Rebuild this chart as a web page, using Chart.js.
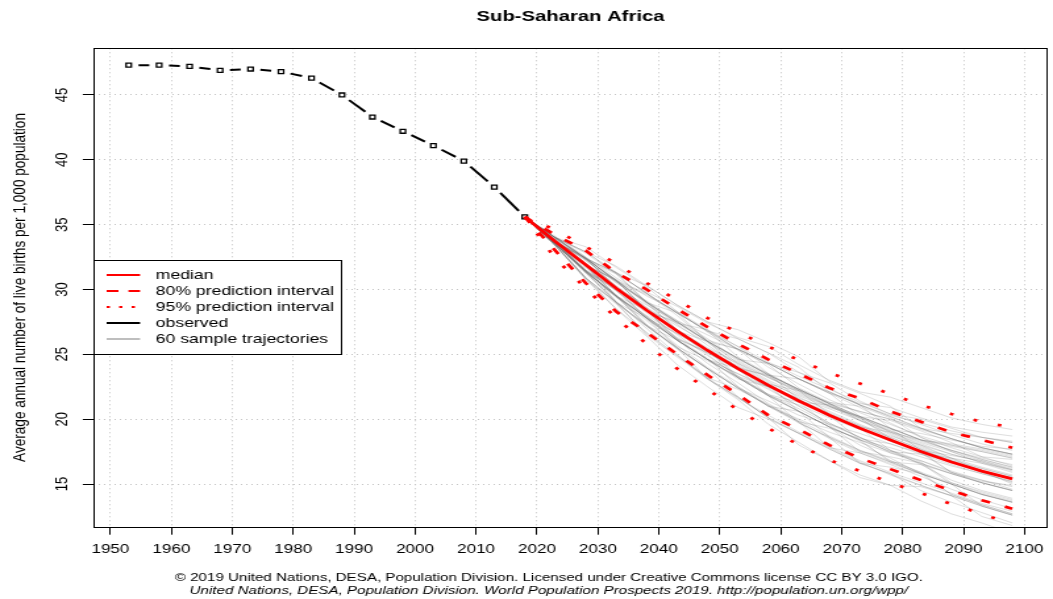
<!DOCTYPE html>
<html>
<head>
<meta charset="utf-8">
<title>Sub-Saharan Africa – crude birth rate</title>
<script src="https://cdn.jsdelivr.net/npm/chart.js@4"></script>
<style>
  html, body { margin: 0; padding: 0; background: #fff; width: 1053px; height: 599px; overflow: hidden; }
  /* the figure is laid out on an 800px-wide canvas and widened to the page */
  #wrap { width: 800px; height: 599px; transform: scaleX(1.31625); transform-origin: 0 0; }
  canvas { display: block; }
</style>
</head>
<body>
<div id="wrap"><canvas id="cbr" width="800" height="599"></canvas></div>
<script>
const FONT = "'Liberation Sans', Arial, Helvetica, sans-serif";

const chartTitle = 'Sub-Saharan Africa';
const yAxisTitle = 'Average annual number of live births per 1,000 population';
const footerLines = [
  '\u00A9 2019 United Nations, DESA, Population Division. Licensed under Creative Commons license CC BY 3.0 IGO.',
  'United Nations, DESA, Population Division. World Population Prospects 2019. http://population.un.org/wpp/'
];

const xTicks = [1950, 1960, 1970, 1980, 1990, 2000, 2010, 2020, 2030, 2040, 2050, 2060, 2070, 2080, 2090, 2100];
const yTicks = [15, 20, 25, 30, 35, 40, 45];

// observed crude birth rate, plotted at the middle of each five-year period
const observedYears = [1953, 1958, 1963, 1968, 1973, 1978, 1983, 1988, 1993, 1998, 2003, 2008, 2013, 2018];
const observedCBR   = [47.3, 47.3, 47.2, 46.9, 47.0, 46.8, 46.3, 45.0, 43.3, 42.2, 41.1, 39.9, 37.9, 35.6];

// projection: median and prediction intervals
const projectionYears = [2018, 2023, 2028, 2033, 2038, 2043, 2048, 2053, 2058, 2063, 2068, 2073, 2078, 2083, 2088, 2093, 2098];
const medianCBR  = [35.6, 33.7, 31.9, 30.1, 28.4, 26.8, 25.3, 23.9, 22.6, 21.4, 20.3, 19.3, 18.4, 17.5, 16.7, 16.0, 15.4];
const upper80CBR = [35.6, 34.2, 33.0, 31.3, 30.0, 28.5, 27.1, 25.8, 24.6, 23.5, 22.4, 21.6, 20.6, 19.8, 19.0, 18.4, 17.8];
const lower80CBR = [35.6, 33.0, 30.5, 28.3, 26.7, 25.0, 23.4, 21.9, 20.3, 19.2, 18.0, 17.0, 16.15, 15.3, 14.5, 13.75, 13.1];
const upper95CBR = [35.6, 34.6, 33.3, 32.0, 30.5, 29.2, 27.8, 26.7, 25.6, 24.55, 23.57, 22.75, 21.95, 21.1, 20.4, 19.8, 19.35];
const lower95CBR = [35.6, 32.4, 30.1, 27.8, 25.8, 23.9, 22.3, 20.7, 19.3, 18.0, 16.85, 16.0, 15.1, 14.3, 13.45, 12.7, 11.9];

// 60 sample trajectories, 2023..2098 (each continues from the 2018 observed value)
const sampleTrajectories = [
  [33.7, 32.3, 31.2, 29.8, 28.7, 27.4, 26.3, 25.6, 24.2, 23.0, 22.1, 21.7, 20.9, 20.1, 19.6, 19.2],
  [33.6, 31.3, 29.1, 27.0, 25.0, 23.1, 21.5, 19.6, 18.2, 16.8, 15.5, 14.9, 13.7, 12.7, 12.0, 11.2],
  [33.8, 31.8, 30.8, 29.1, 27.4, 26.9, 25.3, 24.2, 22.4, 21.3, 21.0, 20.1, 18.6, 17.8, 17.1, 16.9],
  [33.6, 31.5, 29.6, 27.3, 25.6, 24.5, 23.3, 22.5, 21.3, 19.5, 18.3, 16.8, 15.9, 14.2, 13.4, 12.7],
  [34.0, 32.8, 31.2, 29.0, 26.9, 25.4, 23.3, 21.9, 21.3, 21.1, 20.1, 18.5, 17.4, 15.9, 15.2, 14.9],
  [33.4, 30.8, 28.9, 26.6, 24.9, 23.2, 22.3, 21.1, 19.8, 19.3, 18.5, 18.1, 17.4, 17.0, 16.6, 16.1],
  [33.7, 32.0, 30.2, 28.3, 27.5, 26.1, 25.4, 24.3, 23.6, 22.8, 21.4, 20.4, 20.0, 19.3, 18.6, 18.2],
  [33.7, 31.8, 29.5, 27.9, 26.2, 25.2, 24.0, 23.3, 22.2, 20.4, 19.3, 17.6, 16.7, 15.1, 14.3, 13.7],
  [34.0, 32.5, 30.6, 29.6, 28.2, 26.8, 24.8, 23.5, 21.5, 20.3, 19.4, 19.0, 18.4, 18.0, 17.6, 17.1],
  [33.5, 31.4, 30.0, 28.4, 26.2, 24.7, 22.5, 21.0, 19.8, 17.8, 16.7, 15.7, 14.9, 14.1, 12.5, 11.8],
  [33.7, 32.3, 30.6, 28.9, 26.9, 25.3, 23.9, 22.7, 22.2, 21.1, 20.1, 19.2, 18.9, 18.4, 17.9, 17.7],
  [33.4, 30.9, 28.5, 26.4, 24.2, 22.5, 20.9, 20.0, 18.9, 17.8, 17.4, 16.6, 15.8, 14.2, 13.4, 12.7],
  [34.0, 33.3, 31.7, 30.2, 28.3, 26.7, 25.4, 23.5, 22.3, 21.2, 20.2, 19.3, 17.6, 16.8, 16.0, 15.5],
  [33.7, 31.9, 30.0, 27.7, 26.1, 24.6, 23.1, 22.5, 21.4, 20.2, 19.3, 18.3, 17.5, 15.9, 15.1, 14.5],
  [33.7, 31.5, 30.1, 28.4, 27.4, 26.0, 24.6, 24.3, 23.1, 22.0, 21.2, 20.9, 20.1, 19.4, 19.0, 18.7],
  [33.5, 31.3, 29.0, 27.2, 25.4, 23.9, 21.7, 20.1, 18.0, 16.8, 15.7, 14.9, 14.8, 14.1, 13.3, 12.6],
  [33.9, 32.4, 30.2, 28.4, 26.8, 25.3, 23.2, 21.9, 20.6, 18.6, 17.6, 16.7, 16.5, 15.8, 15.1, 14.5],
  [33.7, 32.4, 30.7, 29.7, 28.2, 26.0, 24.7, 23.4, 23.1, 22.0, 20.2, 19.3, 18.4, 18.1, 17.7, 17.2],
  [33.5, 31.4, 29.5, 28.4, 26.8, 25.3, 23.9, 21.8, 20.6, 19.4, 18.4, 16.7, 15.8, 15.0, 14.2, 13.6],
  [34.0, 32.9, 31.3, 30.3, 28.8, 27.5, 26.9, 25.9, 24.8, 22.9, 22.0, 21.0, 19.3, 18.5, 17.8, 17.3],
  [33.7, 31.9, 29.5, 27.8, 25.5, 23.9, 22.4, 21.0, 20.6, 19.4, 18.4, 17.5, 17.3, 16.7, 16.0, 15.4],
  [34.0, 32.4, 30.7, 28.4, 26.8, 25.3, 23.9, 23.4, 22.3, 21.2, 20.2, 19.9, 19.1, 18.2, 17.1, 16.4],
  [33.4, 30.9, 29.0, 27.2, 26.1, 24.6, 23.9, 22.6, 21.4, 20.3, 18.4, 17.5, 16.6, 15.0, 14.2, 13.6],
  [33.7, 31.9, 30.7, 29.0, 27.5, 26.0, 23.9, 22.6, 20.6, 19.4, 17.5, 16.7, 15.8, 15.0, 13.3, 12.6],
  [34.0, 32.4, 31.3, 29.7, 28.2, 26.8, 25.4, 24.3, 23.1, 22.1, 21.1, 19.3, 18.4, 17.6, 16.9, 16.3],
  [33.5, 31.5, 29.4, 27.9, 26.2, 25.1, 24.0, 22.5, 21.5, 20.2, 19.4, 18.3, 17.6, 17.2, 16.8, 16.2],
  [33.7, 31.4, 29.5, 27.2, 25.5, 23.1, 21.7, 20.1, 18.9, 17.7, 16.6, 16.3, 15.8, 15.0, 14.2, 13.6],
  [34.0, 32.4, 30.1, 28.4, 26.1, 24.6, 23.2, 21.8, 21.1, 20.1, 19.2, 18.5, 17.4, 16.8, 15.9, 15.5],
  [33.7, 32.4, 30.7, 29.0, 27.5, 26.0, 24.7, 23.4, 22.3, 21.2, 20.6, 20.0, 19.3, 18.5, 17.8, 17.3],
  [33.5, 31.4, 30.1, 28.4, 26.8, 26.0, 24.7, 23.4, 22.3, 21.2, 20.2, 19.0, 18.0, 17.0, 16.0, 15.0],
  [33.7, 31.9, 29.0, 27.2, 25.5, 23.9, 22.4, 21.0, 19.7, 18.6, 17.5, 17.1, 16.6, 15.8, 15.1, 14.5],
  [34.0, 32.4, 30.7, 29.0, 28.2, 26.8, 26.2, 25.1, 24.0, 22.1, 21.1, 20.2, 19.3, 18.9, 18.6, 18.2],
  [33.4, 30.9, 29.0, 27.8, 26.1, 24.6, 23.2, 21.8, 19.7, 18.6, 16.6, 15.8, 14.9, 14.1, 13.3, 12.6],
  [33.7, 31.9, 30.7, 28.4, 26.8, 25.3, 24.1, 22.8, 21.8, 20.9, 20.2, 19.3, 18.4, 17.6, 16.9, 16.3],
  [33.7, 31.4, 29.5, 27.8, 26.1, 24.6, 23.5, 22.3, 21.0, 19.7, 18.6, 17.4, 16.8, 15.9, 15.3, 14.6],
  [34.0, 32.9, 31.3, 29.7, 28.0, 26.0, 24.7, 23.4, 22.3, 21.2, 19.9, 18.8, 17.8, 16.9, 16.2, 15.6],
  [33.5, 31.4, 29.0, 27.2, 25.5, 23.9, 22.4, 21.4, 20.3, 19.6, 18.9, 18.1, 17.3, 16.5, 15.8, 15.2],
  [33.7, 32.4, 30.7, 28.4, 26.8, 25.0, 23.2, 21.8, 20.6, 19.4, 18.0, 17.0, 15.8, 15.0, 14.2, 13.6],
  [34.0, 32.9, 31.8, 30.3, 28.8, 27.5, 26.2, 25.1, 23.6, 22.4, 21.1, 20.2, 19.3, 18.5, 17.8, 17.3],
  [33.5, 30.9, 29.0, 26.5, 24.8, 23.1, 21.7, 20.1, 18.9, 17.7, 16.6, 15.8, 14.5, 13.6, 12.8, 12.0],
  [33.8, 32.0, 30.3, 28.6, 26.9, 25.5, 24.4, 23.2, 22.1, 21.0, 20.1, 19.1, 18.2, 17.5, 16.8, 16.1],
  [33.6, 31.7, 29.9, 27.9, 26.3, 25.1, 23.8, 22.5, 21.5, 20.4, 19.5, 18.6, 17.7, 16.8, 16.2, 15.6],
  [34.0, 32.4, 31.3, 29.0, 27.5, 26.0, 24.3, 23.0, 21.9, 21.0, 20.2, 19.3, 18.4, 17.9, 17.5, 17.0],
  [33.5, 31.4, 29.5, 27.2, 25.5, 23.9, 22.4, 21.0, 20.0, 19.0, 18.2, 17.4, 16.6, 15.8, 15.1, 14.5],
  [33.7, 31.9, 30.1, 28.8, 27.5, 26.0, 25.4, 24.3, 23.1, 22.0, 20.9, 19.7, 18.6, 17.5, 16.6, 15.9],
  [33.5, 31.4, 29.5, 27.8, 26.1, 24.3, 22.8, 21.2, 19.9, 18.7, 17.6, 16.8, 15.9, 15.1, 14.4, 13.8],
  [33.9, 32.3, 30.5, 29.1, 27.6, 26.2, 24.6, 23.5, 22.2, 21.0, 19.9, 18.9, 17.9, 17.0, 16.3, 15.7],
  [33.7, 31.4, 29.5, 28.0, 26.6, 25.4, 24.3, 23.2, 22.2, 21.3, 20.6, 20.0, 19.2, 18.5, 17.8, 17.3],
  [33.4, 30.8, 28.5, 26.7, 24.9, 23.2, 21.6, 20.3, 19.0, 17.9, 16.8, 15.9, 15.1, 14.3, 13.5, 12.9],
  [33.7, 32.4, 31.3, 29.7, 28.2, 26.8, 25.6, 24.0, 22.7, 21.5, 20.5, 19.6, 18.7, 18.0, 17.5, 17.0],
  [33.7, 31.9, 30.1, 27.8, 26.1, 24.6, 23.2, 21.8, 20.6, 19.4, 18.4, 17.8, 17.1, 16.4, 15.8, 15.2],
  [34.1, 32.5, 30.9, 29.5, 28.3, 26.9, 25.6, 24.4, 23.3, 22.3, 21.3, 20.4, 19.6, 18.8, 18.1, 17.6],
  [33.5, 31.3, 29.4, 27.6, 25.7, 24.0, 22.5, 21.1, 19.8, 18.5, 17.4, 16.5, 15.6, 14.6, 13.8, 13.1],
  [33.8, 32.2, 30.6, 29.0, 27.3, 25.7, 24.2, 22.9, 21.7, 20.6, 19.6, 18.7, 18.0, 17.3, 16.7, 16.1],
  [33.7, 31.9, 29.5, 27.8, 26.1, 24.6, 23.5, 22.5, 21.6, 20.8, 19.9, 19.1, 18.3, 17.6, 17.0, 16.5],
  [33.5, 31.5, 29.9, 28.2, 26.5, 24.9, 23.3, 21.9, 20.8, 19.6, 18.6, 17.6, 16.8, 16.0, 15.3, 14.8],
  [34.0, 32.4, 30.7, 29.0, 27.6, 26.5, 25.4, 24.3, 23.1, 22.1, 21.1, 20.3, 19.7, 19.1, 18.6, 18.3],
  [33.5, 31.8, 30.0, 28.5, 26.9, 25.2, 23.8, 22.4, 21.0, 19.7, 18.6, 17.6, 16.5, 15.3, 14.5, 13.9],
  [33.6, 31.4, 29.5, 27.8, 26.6, 25.2, 23.8, 22.7, 21.5, 20.5, 19.5, 18.6, 17.7, 16.7, 15.9, 15.1],
  [33.9, 32.4, 30.2, 28.6, 27.2, 25.9, 24.5, 23.3, 22.0, 21.0, 20.0, 19.0, 18.1, 17.3, 16.7, 16.0]
];

const legendLabels = ['median', '80% prediction interval', '95% prediction interval', 'observed', '60 sample trajectories'];

const RED = '#ff0000';
const TRAJ_COLOR = 'rgba(105, 105, 105, 0.22)';
const legendStyles = [
  { color: RED, dash: [] },
  { color: RED, dash: [9, 7.6] },
  { color: RED, dash: [2.5, 7] },
  { color: '#000', dash: [] },
  { color: '#bebebe', dash: [] }
];

const toPoints = (xs, ys) => xs.map((x, i) => ({ x, y: ys[i] }));
const jumpOff = observedCBR[observedCBR.length - 1];

// observed line: one dash per segment, leaving a gap around each marker
function gappedDash(ctx) {
  const a = ctx.p0, b = ctx.p1;
  const len = Math.hypot(b.x - a.x, b.y - a.y);
  const gap = 7.5;
  return [0, gap, Math.max(len - 2 * gap, 0), 1000];
}

const redLine = (label, values, width, dash) => ({
  label, data: toPoints(projectionYears, values),
  borderColor: RED, borderWidth: width, borderDash: dash, pointRadius: 0
});

const datasets = [
  redLine('median', medianCBR, 2.8, []),
  redLine('80% upper', upper80CBR, 2.7, [7, 12]),
  redLine('80% lower', lower80CBR, 2.7, [7, 12]),
  redLine('95% upper', upper95CBR, 2.7, [2.8, 16.2]),
  redLine('95% lower', lower95CBR, 2.7, [2.8, 16.2]),
  {
    label: 'observed', data: toPoints(observedYears, observedCBR),
    borderColor: '#000', borderWidth: 2,
    pointRadius: 2.8, pointStyle: 'rect', pointBorderColor: '#000',
    pointBackgroundColor: '#fff', pointBorderWidth: 1.3,
    segment: { borderDash: gappedDash }
  },
  ...sampleTrajectories.map((traj, k) => ({
    label: 'trajectory ' + (k + 1),
    data: toPoints(projectionYears, [jumpOff, ...traj]),
    borderColor: TRAJ_COLOR, borderWidth: 1, pointRadius: 0
  }))
];

const whiteBackground = {
  id: 'whiteBackground',
  beforeDraw(chart) {
    const { ctx, width, height } = chart;
    ctx.save();
    ctx.fillStyle = '#fff';
    ctx.fillRect(0, 0, width, height);
    ctx.restore();
  }
};

const insetLegend = {
  id: 'insetLegend',
  afterDraw(chart) {
    const { ctx, chartArea } = chart;
    const x0 = Math.round(chartArea.left) + 0.5, y0 = 260.5, x1 = 259.5, y1 = 354.5;
    ctx.save();
    ctx.fillStyle = '#fff';
    ctx.fillRect(x0, y0, x1 - x0, y1 - y0);
    ctx.strokeStyle = '#000';
    ctx.lineWidth = 1;
    ctx.strokeRect(x0, y0, x1 - x0, y1 - y0);
    ctx.font = '13.4px ' + FONT;
    ctx.textBaseline = 'middle';
    ctx.textAlign = 'left';
    legendLabels.forEach((label, i) => {
      const y = 275 + i * 16;
      const st = legendStyles[i];
      ctx.beginPath();
      ctx.setLineDash(st.dash);
      ctx.strokeStyle = st.color;
      ctx.lineWidth = 2;
      ctx.moveTo(81, y);
      ctx.lineTo(106.4, y);
      ctx.stroke();
      ctx.setLineDash([]);
      ctx.fillStyle = '#000';
      ctx.fillText(label, 118.3, y + 0.5);
    });
    ctx.restore();
  }
};

const plotFrame = {
  id: 'plotFrame',
  afterDraw(chart) {
    const { ctx, chartArea: a } = chart;
    ctx.save();
    ctx.strokeStyle = '#000';
    ctx.lineWidth = 1;
    ctx.setLineDash([]);
    const l = Math.round(a.left) + 0.5, t = Math.round(a.top) + 0.5;
    const r = Math.round(a.right) - 0.5, b = Math.round(a.bottom) + 0.5;
    ctx.strokeRect(l, t, r - l, b - t);
    ctx.restore();
  }
};

const creditFooter = {
  id: 'creditFooter',
  afterDraw(chart) {
    const { ctx } = chart;
    ctx.save();
    ctx.fillStyle = '#000';
    ctx.textAlign = 'center';
    ctx.textBaseline = 'middle';
    ctx.font = '11.5px ' + FONT;
    ctx.fillText(footerLines[0], 417, 578);
    ctx.font = 'italic 11.5px ' + FONT;
    ctx.fillText(footerLines[1], 417, 591);
    ctx.restore();
  }
};

Chart.defaults.font.family = FONT;
Chart.defaults.color = '#000';

new Chart(document.getElementById('cbr'), {
  type: 'line',
  data: { datasets },
  options: {
    responsive: false,
    animation: false,
    devicePixelRatio: 1,
    events: [],
    layout: { padding: { left: 0, right: 0.5, top: 0, bottom: 0 } },
    elements: { line: { tension: 0 }, point: { radius: 0, hoverRadius: 0 } },
    plugins: {
      legend: { display: false },
      tooltip: { enabled: false },
      title: {
        display: true,
        text: chartTitle,
        fullSize: false,
        color: '#000',
        font: { size: 15.4, weight: 'bold', family: FONT, lineHeight: 1.2 },
        padding: { top: 7.8, bottom: 22.0 }
      }
    },
    scales: {
      x: {
        type: 'linear',
        min: 1947.2,
        max: 2103.8,
        bounds: 'data',
        afterBuildTicks: s => { s.ticks = xTicks.map(v => ({ value: v })); },
        afterFit: s => { s.height = 72.3; },
        grid: { color: '#c4c4c4', lineWidth: 1, drawTicks: true, tickLength: 8, tickColor: '#000', tickWidth: 1, tickBorderDash: [] },
        border: { display: false, dash: [1, 3] },
        ticks: { autoSkip: false, maxRotation: 0, minRotation: 0, padding: 6.5, font: { size: 13 }, color: '#000', callback: v => String(v) }
      },
      y: {
        type: 'linear',
        min: 11.71,
        max: 48.6,
        bounds: 'data',
        afterBuildTicks: s => { s.ticks = yTicks.map(v => ({ value: v })); },
        afterFit: s => { s.width = 70.9; },
        grid: { color: '#c4c4c4', lineWidth: 1, drawTicks: true, tickLength: 8, tickColor: '#000', tickWidth: 1, tickBorderDash: [] },
        border: { display: false, dash: [1, 3] },
        ticks: { autoSkip: false, minRotation: 90, maxRotation: 90, crossAlign: 'center', padding: 7.8, font: { size: 13 }, color: '#000', callback: v => String(v) },
        title: { display: true, text: yAxisTitle, color: '#000', font: { size: 13.6, family: FONT, lineHeight: 1.2 }, padding: { top: 7.1, bottom: 0 } }
      }
    }
  },
  plugins: [whiteBackground, insetLegend, plotFrame, creditFooter]
});
</script>
</body>
</html>
